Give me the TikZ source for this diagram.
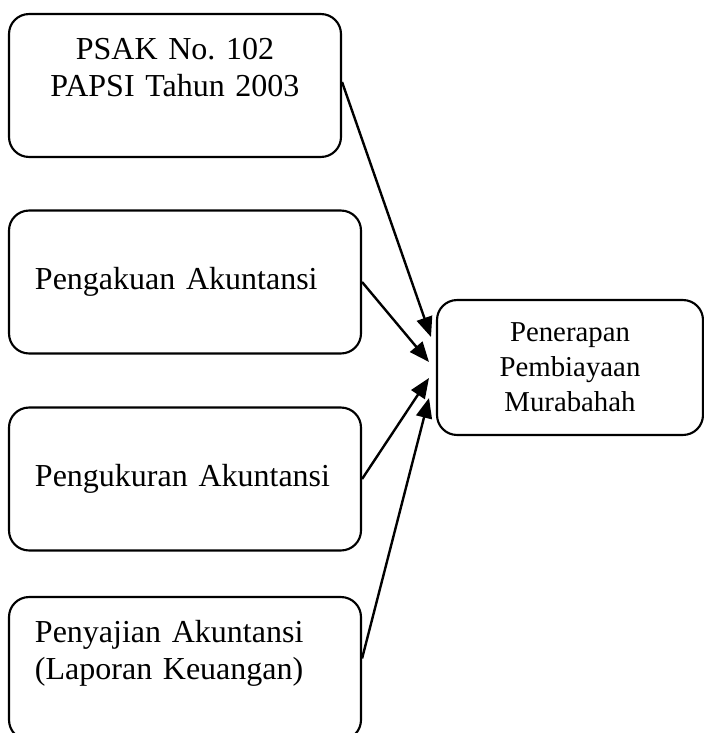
\documentclass[tikz,border=0pt]{standalone}
\usepackage{fontspec}
\setmainfont{Liberation Serif}
\usetikzlibrary{arrows.meta}
\frenchspacing

\tikzset{
  kotak/.style={draw, line width=0.8pt, rounded corners=7.5pt, inner sep=0pt,
                minimum width=132pt, minimum height=53.6pt, text width=112.5pt, align=left},
}

\begin{document}
\begin{tikzpicture}[x=0.375pt, y=-0.375pt, >={Triangle[length=7.5pt,width=6pt]},
                    line width=0.9pt, font=\fontsize{12pt}{13.9pt}\selectfont]
    \useasboundingbox (0,0) rectangle (704,733);
    \node [kotak, minimum width=124.5pt, text width=105pt, align=center] (psak) at (175,85.5)
        {PSAK No. 102\\PAPSI Tahun 2003\\~};
    \node [kotak] (akui) at (185,282) {Pengakuan Akuntansi};
    \node [kotak] (ukur) at (185,479) {Pengukuran Akuntansi};
    \node [kotak] (saji) at (185,668.5) {Penyajian Akuntansi\\(Laporan Keuangan)\\~};
    \node [kotak, minimum width=99.75pt, minimum height=50.6pt, text width=90pt, align=center,
           font=\fontsize{10.8pt}{13.1pt}\selectfont] (terap) at (570,367.5)
        {Penerapan\\Pembiayaan\\Murabahah};
    % ujung panah
    \coordinate (t1) at (431,337);
    \coordinate (t2) at (429,362);
    \coordinate (t3) at (429,378);
    \coordinate (t4) at (429,398);
    \draw [->] ([yshift=1.3pt]psak.east) -- (t1);
    \draw [->] (akui.east) -- (t2);
    \draw [->] (ukur.east) -- (t3);
    \draw [->] ([yshift=3.75pt]saji.east) -- (t4);
\end{tikzpicture}
\end{document}
